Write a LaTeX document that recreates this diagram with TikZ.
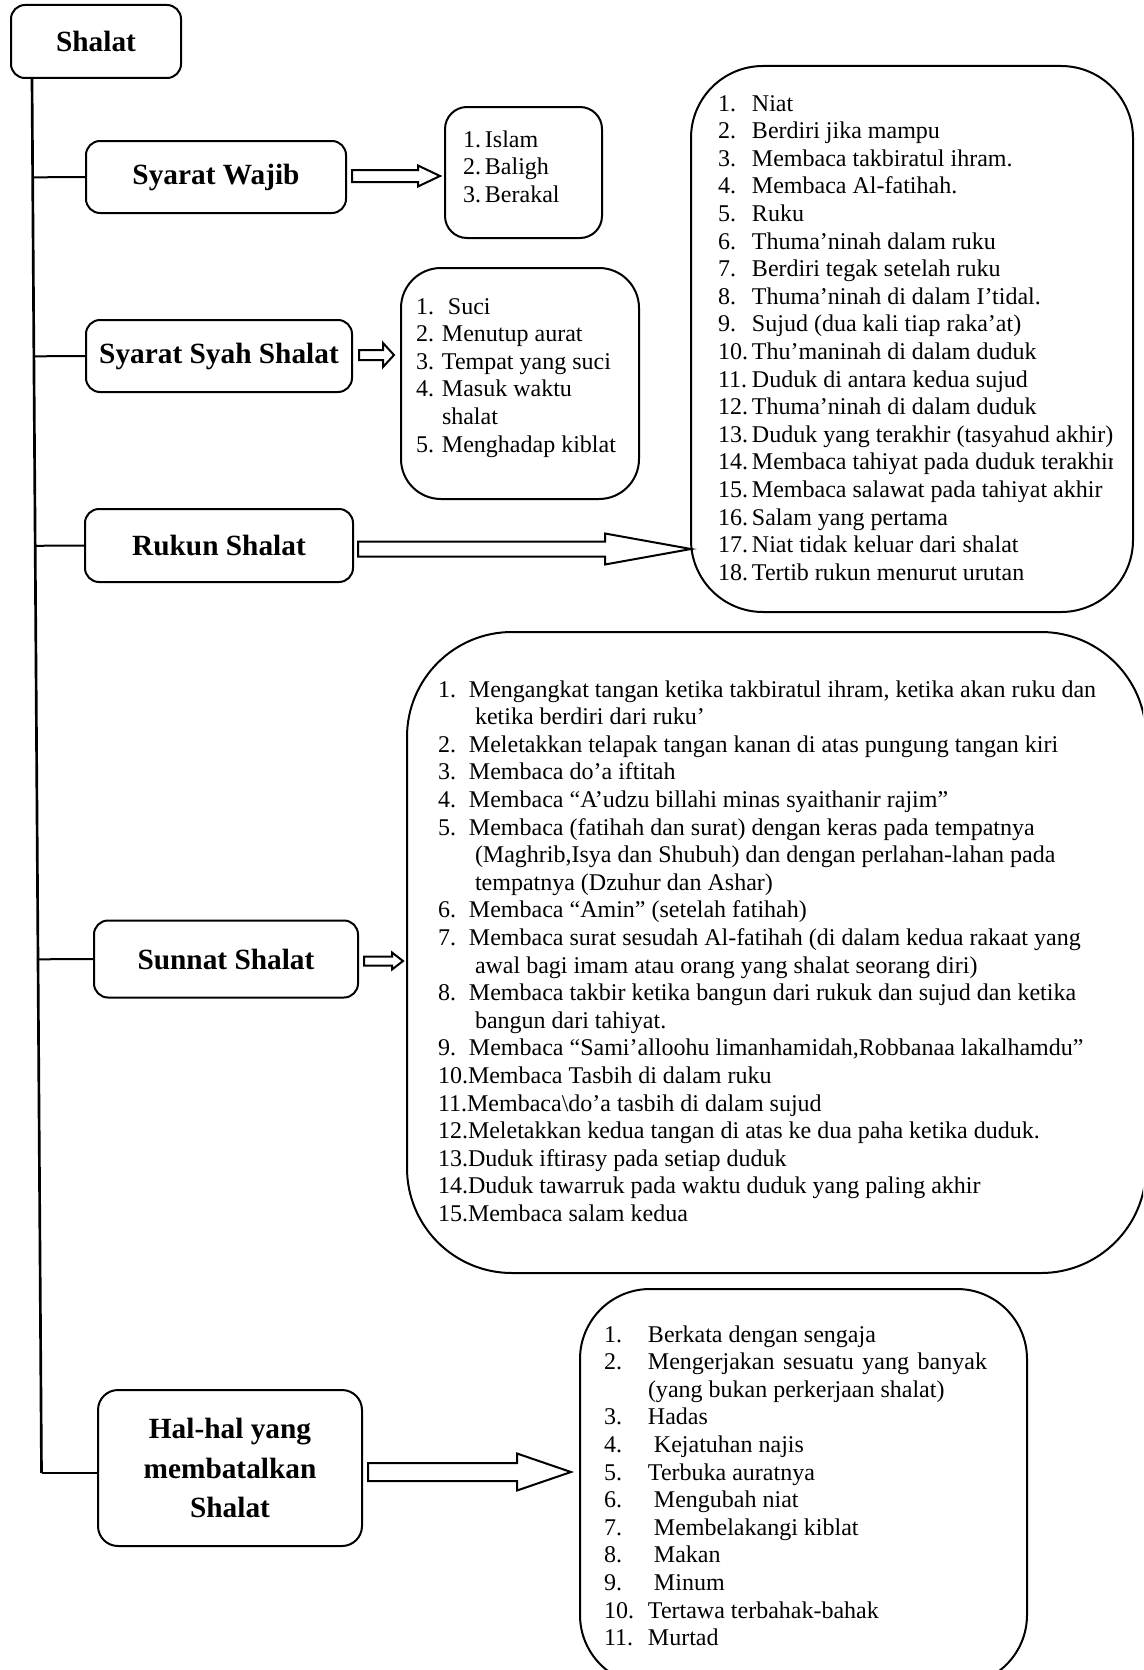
\documentclass[tikz,border=0pt]{standalone}
\usepackage{fontspec}
\setmainfont{Liberation Serif}
\usetikzlibrary{calc}

\tikzset{every picture/.style={line width=1.5pt}}
\tikzset{
  headbox/.style={draw, rounded corners=10.5pt, inner sep=0pt, align=center,
    font=\bfseries\fontsize{22}{29.6}\selectfont},
  listbox/.style={draw, inner sep=0pt},
  listtext/.style={anchor=north west, inner sep=0pt, font=\fontsize{18}{20.7}\selectfont},
  hollow/.style={fill=white, line join=miter},
  trunk/.style={line width=2pt},
}

% hollow block arrow: tail, tip, half shaft, half head, head length
\newcommand{\blockarrow}[5]{%
  \path (#1) ++(0,-#3) coordinate (ba1) (#1) ++(0,#3) coordinate (ba7)
        (#2) ++(-#5,-#4) coordinate (ba3) (#2) ++(-#5,#4) coordinate (ba5);
  \draw[hollow] (ba1) -- (ba1 -| ba3) -- (ba3) -- (#2) -- (ba5) -- (ba7 -| ba5) -- (ba7) -- cycle;}

\begin{document}
\begin{tikzpicture}[x=0.75pt,y=0.75pt,yscale=-1,xscale=1]
    \useasboundingbox (0,0) rectangle (1143,1670);
    \clip (0,0) rectangle (1143,1670);

    %Rounded Rect: Shalat
    \node[headbox, minimum width=127.5pt, minimum height=54.75pt] (shalat) at (96,41.5) {Shalat};
    %Rounded Rect: Syarat Wajib
    \node[headbox, minimum width=195pt, minimum height=54pt] (wajib) at (216,177) {Syarat Wajib};
    %Rounded Rect: Syarat Syah Shalat
    \node[headbox, minimum width=199.5pt, minimum height=54pt] (syah) at (219,356) {Syarat Syah Shalat};
    %Rounded Rect: Rukun Shalat
    \node[headbox, minimum width=201pt, minimum height=54.75pt] (rukun) at (219,545.5) {Rukun Shalat};
    %Rounded Rect: Sunnat Shalat
    \node[headbox, minimum width=198pt, minimum height=57.75pt] (sunnat) at (226,959) {Sunnat Shalat};
    %Rounded Rect: Hal-hal yang membatalkan Shalat
    \node[headbox, rounded corners=15pt, minimum width=198pt, minimum height=117pt] (hal) at (230,1468) {Hal-hal yang\\membatalkan\\Shalat};

    %Straight Lines: trunk and branches
    \coordinate (ttop) at ($(shalat.south west)+(22,0)$);
    \coordinate (tbot) at (41.5,1473);
    \draw[trunk] (ttop) -- (tbot);
    \draw ($(ttop)!(wajib.west)!(tbot)$) -- (wajib.west);
    \draw ($(ttop)!(syah.west)!(tbot)$) -- (syah.west);
    \draw ($(ttop)!(rukun.west)!(tbot)$) -- (rukun.west);
    \draw ($(ttop)!(sunnat.west)!(tbot)$) -- (sunnat.west);
    \draw (tbot) -- (tbot -| hal.west);

    %Rounded Rect: lists
    \node[listbox, rounded corners=16.5pt, minimum width=117.75pt, minimum height=98.25pt] (wlist) at (523.5,172.5) {};
    \node[listbox, rounded corners=30pt, minimum width=178.5pt, minimum height=173.25pt] (slist) at (520,383.5) {};
    \node[listbox, rounded corners=54pt, minimum width=331.5pt, minimum height=409.5pt] (rlist) at (912,339) {};
    \node[listbox, rounded corners=78.75pt, minimum width=554.25pt, minimum height=480.75pt] (ulist) at (776.5,952.5) {};
    \node[listbox, rounded corners=52.5pt, minimum width=335.25pt, minimum height=297pt] (hlist) at (803.5,1487) {};

    %Right Arrows
    \blockarrow{$(wajib.east)+(5,-1)$}{$(wlist.west |- wajib.east)+(-4,-1)$}{6}{10.5}{22}
    \blockarrow{$(syah.east)+(6,-1)$}{$(slist.west |- syah.east)+(-6,-1)$}{5}{12}{11}
    \blockarrow{$(rukun.east)+(4,3.5)$}{$(rlist.west |- rukun.east)+(1,3.5)$}{7.5}{15.5}{86}
    \blockarrow{$(sunnat.east)+(5,2)$}{$(ulist.west |- sunnat.east)+(-3,2)$}{4.5}{8.5}{11}
    \blockarrow{$(hal.east)+(5,4)$}{$(hlist.west |- hal.east)+(-8,4)$}{9}{18.5}{54}

    %Text: Syarat Wajib
    \node[listtext] (wtext) at (462,126.7) {\begin{tabular}{@{}p{16.5pt}@{}l@{}}
      1.&Islam\\ 2.&Baligh\\ 3.&Berakal
    \end{tabular}};
    %Text: Syarat Syah Shalat
    \node[listtext] (stext) at (415,293.7) {\begin{tabular}{@{}p{19.5pt}@{}l@{}}
      1.&\ Suci\\ 2.&Menutup aurat\\ 3.&Tempat yang suci\\ 4.&Masuk waktu\\ &shalat\\ 5.&Menghadap kiblat
    \end{tabular}};
    %Text: Rukun Shalat
    \begin{scope}
    \clip (rlist.north west) rectangle ([xshift=-16pt]rlist.south east);
    \node[listtext] (rtext) at (717,90.7) {\begin{tabular}{@{}p{25.5pt}@{}l@{}}
      1.&Niat\\
      2.&Berdiri jika mampu\\
      3.&Membaca takbiratul ihram.\\
      4.&Membaca Al-fatihah.\\
      5.&Ruku\\
      6.&Thuma’ninah dalam ruku\\
      7.&Berdiri tegak setelah ruku\\
      8.&Thuma’ninah di dalam I’tidal.\\
      9.&Sujud (dua kali tiap raka’at)\\
      10.&Thu’maninah di dalam duduk\\
      11.&Duduk di antara kedua sujud\\
      12.&Thuma’ninah di dalam duduk\\
      13.&Duduk yang terakhir (tasyahud akhir)\\
      14.&Membaca tahiyat pada duduk terakhir\\
      15.&Membaca salawat pada tahiyat akhir\\
      16.&Salam yang pertama\\
      17.&Niat tidak keluar dari shalat\\
      18.&Tertib rukun menurut urutan
    \end{tabular}};
    \end{scope}
    %Text: Sunnat Shalat
    \node[listtext] (utext) at (437,676.7) {\begin{tabular}{@{}p{23.25pt}@{}l@{}}
      1.&Mengangkat tangan ketika takbiratul ihram, ketika akan ruku dan\\
      &\ ketika berdiri dari ruku’\\
      2.&Meletakkan telapak tangan kanan di atas pungung tangan kiri\\
      3.&Membaca do’a iftitah\\
      4.&Membaca “A’udzu billahi minas syaithanir rajim”\\
      5.&Membaca (fatihah dan surat) dengan keras pada tempatnya\\
      &\ (Maghrib,Isya dan Shubuh) dan dengan perlahan-lahan pada\\
      &\ tempatnya (Dzuhur dan Ashar)\\
      6.&Membaca “Amin” (setelah fatihah)\\
      7.&Membaca surat sesudah Al-fatihah (di dalam kedua rakaat yang\\
      &\ awal bagi imam atau orang yang shalat seorang diri)\\
      8.&Membaca takbir ketika bangun dari rukuk dan sujud dan ketika\\
      &\ bangun dari tahiyat.\\
      9.&Membaca “Sami’alloohu limanhamidah,Robbanaa lakalhamdu”\\
      \multicolumn{2}{@{}l@{}}{10.Membaca Tasbih di dalam ruku}\\
      \multicolumn{2}{@{}l@{}}{11.Membaca\textbackslash do’a tasbih di dalam sujud}\\
      \multicolumn{2}{@{}l@{}}{12.Meletakkan kedua tangan di atas ke dua paha ketika duduk.}\\
      \multicolumn{2}{@{}l@{}}{13.Duduk iftirasy pada setiap duduk}\\
      \multicolumn{2}{@{}l@{}}{14.Duduk tawarruk pada waktu duduk yang paling akhir}\\
      \multicolumn{2}{@{}l@{}}{15.Membaca salam kedua}
    \end{tabular}};
    %Text: Hal-hal yang membatalkan Shalat
    \node[listtext] (htext) at (603,1321.7) {\begin{tabular}{@{}p{33pt}@{}l@{}}
      1.&Berkata dengan sengaja\\
      2.&\makebox[254.25pt][s]{Mengerjakan sesuatu yang banyak}\\
      &(yang bukan perkerjaan shalat)\\
      3.&Hadas\\
      4.&\ Kejatuhan najis\\
      5.&Terbuka auratnya\\
      6.&\ Mengubah niat\\
      7.&\ Membelakangi kiblat\\
      8.&\ Makan\\
      9.&\ Minum\\
      10.&Tertawa terbahak-bahak\\
      11.&Murtad
    \end{tabular}};

\end{tikzpicture}
\end{document}
